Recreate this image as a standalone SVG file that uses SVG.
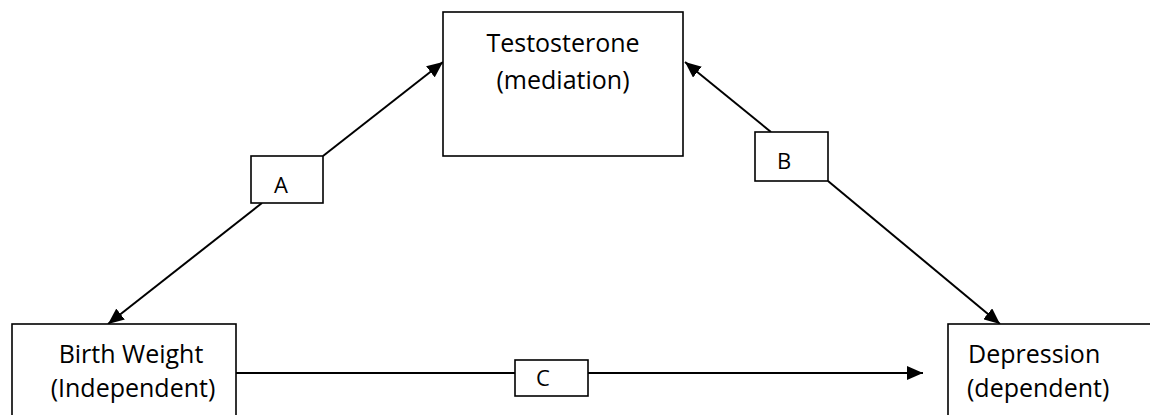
<svg xmlns="http://www.w3.org/2000/svg" width="1150" height="415" viewBox="0 0 1150 415">
<style>
.box{fill:#fff;stroke:#000;stroke-width:1.6}
.t{font-family:"Open Sans","Liberation Sans",sans-serif;font-size:25px;fill:#000}
.l{font-family:"Open Sans","Liberation Sans",sans-serif;font-size:22px;fill:#000;text-anchor:middle}
.c{stroke:#000;stroke-width:2;fill:none}
</style>
<defs>
<marker id="ah" viewBox="0 0 10 10" refX="10" refY="5" markerWidth="8" markerHeight="8" markerUnits="userSpaceOnUse" orient="auto">
<path d="M0,0 L10,5 L0,10 z" fill="#000"/>
</marker>
<marker id="arr" viewBox="0 0 16 14" refX="16" refY="7" markerWidth="16" markerHeight="14" markerUnits="userSpaceOnUse" orient="auto">
<path d="M0,0 L16,7 L0,14 z" fill="#000"/>
</marker>
</defs>
<g id="connectors">
<line class="c" x1="323" y1="156" x2="443" y2="62" marker-end="url(#arr)"/>
<line class="c" x1="262" y1="203" x2="108" y2="324" marker-end="url(#arr)"/>
<line class="c" x1="771" y1="132" x2="685" y2="62" marker-end="url(#arr)"/>
<line class="c" x1="828" y1="181" x2="1000" y2="324" marker-end="url(#arr)"/>
<line class="c" x1="236" y1="373" x2="515" y2="373"/>
<line class="c" x1="588" y1="373" x2="923" y2="373" marker-end="url(#arr)"/>
</g>
<g id="testosterone">
<rect class="box" x="443" y="12" width="240" height="144"/>
<text class="t" x="563" y="52" text-anchor="middle">Testosterone</text>
<text class="t" x="563" y="89" text-anchor="middle">(mediation)</text>
</g>
<g id="birthweight">
<rect class="box" x="12" y="324" width="224" height="110"/>
<text class="t" x="131" y="363" text-anchor="middle">Birth Weight</text>
<text class="t" x="133" y="397" text-anchor="middle">(Independent)</text>
</g>
<g id="depression">
<rect class="box" x="948" y="324" width="220" height="110"/>
<text class="t" x="968" y="363">Depression</text>
<text class="t" x="967" y="397">(dependent)</text>
</g>
<g id="labelA">
<rect class="box" x="251" y="156" width="72" height="47"/>
<text class="l" x="281" y="193">A</text>
</g>
<g id="labelB">
<rect class="box" x="755" y="132" width="73" height="49"/>
<text class="l" x="784" y="169">B</text>
</g>
<g id="labelC">
<rect class="box" x="515" y="360" width="73" height="36"/>
<text class="l" x="543" y="386">C</text>
</g>
</svg>
